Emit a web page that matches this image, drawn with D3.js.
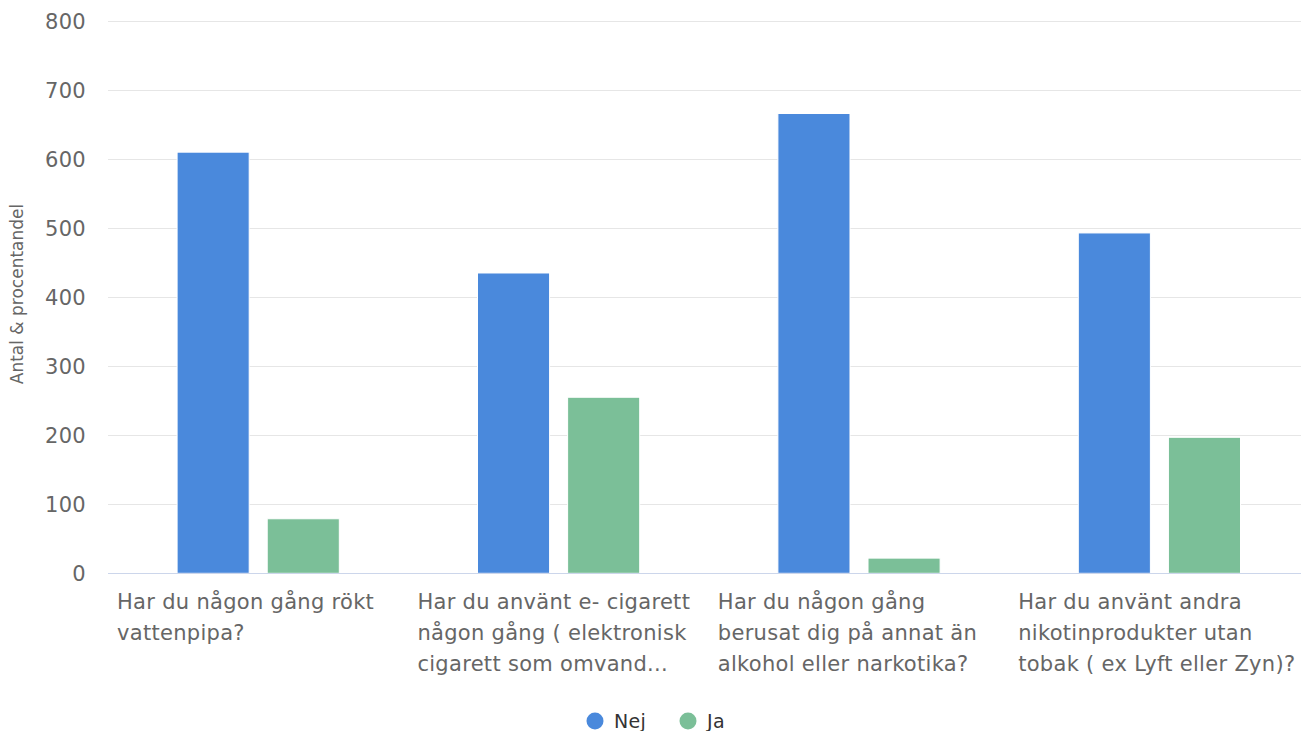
<!DOCTYPE html>
<html>
<head>
<meta charset="utf-8">
<script src="https://cdn.jsdelivr.net/npm/d3@7"></script>
<style>
  html, body { margin: 0; padding: 0; background: #fff; }
  svg { display: block; font-family: "DejaVu Sans", Verdana, sans-serif; }
</style>
</head>
<body>
<svg id="chart" width="1301" height="731"></svg>
<script>
// ---- data ----
const categories = [
  ["Har du någon gång rökt", "vattenpipa?"],
  ["Har du använt e- cigarett", "någon gång ( elektronisk", "cigarett som omvand..."],
  ["Har du någon gång", "berusat dig på annat än", "alkohol eller narkotika?"],
  ["Har du använt andra", "nikotinprodukter utan", "tobak ( ex Lyft eller Zyn)?"]
];
const seriesNames = ["Nej", "Ja"];
const nejValues = [610, 435, 666, 493];
const jaValues = [79, 255, 22, 197];
const yTicks = [0, 100, 200, 300, 400, 500, 600, 700, 800];
const yTitle = "Antal & procentandel";
const colors = ["#4a89dc", "#7bbf98"];

// ---- layout ----
const svg = d3.select("#chart");
const plot = { left: 108, right: 1309.6, top: 21, bottom: 573.3 };

const x0 = d3.scaleBand()
  .domain(d3.range(categories.length))
  .range([plot.left, plot.right])
  .paddingInner(0).paddingOuter(0);
const step = x0.bandwidth();
const groupPad = step * 0.2;
const x1 = d3.scaleBand()
  .domain(seriesNames)
  .range([groupPad, step - groupPad])
  .paddingInner(0.2).paddingOuter(0.1);
const y = d3.scaleLinear().domain([0, 800]).range([plot.bottom, plot.top]);

// gridlines
svg.append("g").selectAll("line")
  .data(yTicks.filter(d => d !== 0))
  .join("line")
  .attr("x1", plot.left).attr("x2", 1301)
  .attr("y1", d => Math.round(y(d)) + 0.5).attr("y2", d => Math.round(y(d)) + 0.5)
  .attr("stroke", "#e6e6e6").attr("stroke-width", 1);

// y axis labels
const yAxis = d3.axisLeft(y).tickValues(yTicks).tickSize(0).tickPadding(0);
const yg = svg.append("g").attr("transform", `translate(86,0)`).call(yAxis);
yg.select(".domain").remove();
yg.selectAll("text")
  .attr("font-size", 21).attr("fill", "#666")
  .attr("font-family", "DejaVu Sans, sans-serif")
  .attr("letter-spacing", "0.3px")
  .attr("dy", "0.35em");

// y title
svg.append("text")
  .attr("transform", `translate(23,294) rotate(-90)`)
  .attr("text-anchor", "middle")
  .attr("font-size", 17).attr("fill", "#666")
  .text(yTitle);

// bars
const rows = categories.map((c, i) => ({ i, vals: [nejValues[i], jaValues[i]] }));
const groups = svg.append("g").selectAll("g")
  .data(rows).join("g")
  .attr("transform", d => `translate(${x0(d.i)},0)`);
groups.selectAll("rect")
  .data(d => d.vals.map((v, k) => ({ key: seriesNames[k], v, k })))
  .join("rect")
  .attr("x", d => x1(d.key))
  .attr("width", x1.bandwidth())
  .attr("y", d => y(d.v))
  .attr("height", d => y(0) - y(d.v))
  .attr("fill", d => colors[d.k])
  .attr("stroke", "#fff").attr("stroke-width", 1);

// x axis line
svg.append("line")
  .attr("x1", plot.left).attr("x2", 1301)
  .attr("y1", Math.round(y(0)) + 0.5).attr("y2", Math.round(y(0)) + 0.5)
  .attr("stroke", "#ccd6eb").attr("stroke-width", 1);

// category labels
const labels = svg.append("g").selectAll("text")
  .data(categories).join("text")
  .attr("x", (d, i) => x0(i) + 9)
  .attr("y", 609)
  .attr("font-size", 21).attr("fill", "#666")
  .attr("letter-spacing", "0.3px");
labels.selectAll("tspan")
  .data(d => d).join("tspan")
  .attr("x", function () { return d3.select(this.parentNode).attr("x"); })
  .attr("dy", (d, j) => j === 0 ? 0 : 31)
  .text(d => d);

// legend
const legendX = [595, 688];
const leg = svg.append("g").selectAll("g")
  .data(seriesNames).join("g")
  .attr("transform", (d, i) => `translate(${legendX[i]},721)`);
leg.append("circle").attr("r", 8.5).attr("fill", (d, i) => colors[i]);
leg.append("text")
  .attr("x", 19).attr("dy", "0.35em")
  .attr("font-size", 19).attr("fill", "#333")
  .attr("letter-spacing", "0.3px")
  .text(d => d);
</script>
</body>
</html>
